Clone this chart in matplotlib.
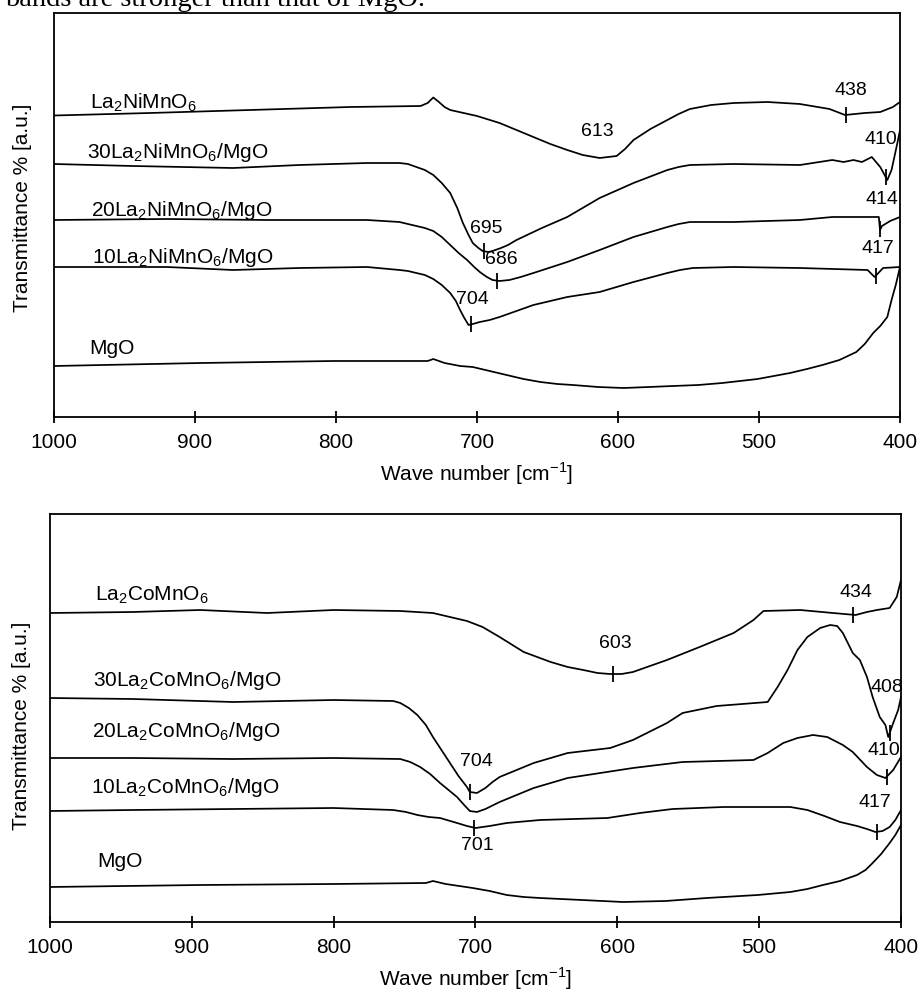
import numpy as np
import matplotlib
matplotlib.use("Agg")
import matplotlib.pyplot as plt

plt.rcParams['font.family'] = ['Liberation Sans', 'DejaVu Sans']
plt.rcParams['mathtext.fontset'] = 'custom'
plt.rcParams['mathtext.rm'] = 'Liberation Sans'

# ---------- top panel: La2NiMnO6 series (transmittance, arbitrary offset units) ----------
ni_pure_wn = [1000, 932, 861, 790, 740, 735, 731, 727, 723, 719, 700, 684, 672, 660, 648, 636, 625,
              613, 601, 595, 589, 577, 565, 557, 549, 534, 518, 494, 471, 450, 439, 425, 414, 405, 400]
ni_pure_t = [301.5, 304, 307, 310, 311, 314, 319.5, 315, 310, 307, 301, 294, 287, 280, 273, 267, 262,
             259, 261, 268, 277, 288, 297, 303, 308, 312, 314, 315, 313, 308, 302, 304, 305, 310, 315]

ni_30_wn = [1000, 944, 873, 826, 778, 755, 749, 743, 737, 731, 725, 719, 714, 710, 706, 703, 699,
            696, 692, 689, 683, 678, 672, 654, 636, 613, 589, 565, 557, 549, 518, 471, 448, 440, 433,
            427, 420, 414, 409, 406, 404, 401.4, 400]
ni_30_t = [253, 251, 249, 252, 254, 254, 253, 250, 247, 242, 234, 224, 209, 194, 182, 174, 169,
           166, 165, 166, 169, 172, 177, 189, 200, 219, 234, 247, 250, 252, 253, 252, 257, 255, 257,
           255, 260, 250, 237, 247, 260, 277, 287]

ni_20_wn = [1000, 920, 849, 778, 755, 749, 743, 737, 731, 725, 719, 713, 707, 702, 698, 693, 689,
            684, 677, 669, 660, 636, 613, 589, 565, 557, 549, 518, 471, 448, 415, 414.2, 412.8,
            407, 400]
ni_20_t = [197, 198, 197, 197, 195, 193, 191, 189, 186, 180, 172, 164, 157, 150, 145, 140, 137,
           136, 137, 140, 144, 155, 167, 180, 190, 193, 195, 195, 197, 200, 200, 187, 191,
           196, 200]

ni_10_wn = [1000, 920, 873, 826, 778, 755, 749, 743, 737, 731, 725, 719, 715, 712, 709, 706, 703,
            698, 691, 684, 672, 660, 636, 613, 589, 565, 556, 547, 518, 471, 423, 418, 412, 400]
ni_10_t = [150, 150, 147, 149, 150, 147, 146, 144, 142, 138, 132, 124, 116, 107, 99, 92, 93,
           95, 97, 100, 106, 112, 120, 125, 135, 144, 147, 149, 150, 149, 147, 140, 149, 150]

ni_mgo_wn = [1000, 896, 802, 735, 731, 723, 712, 703, 691, 679, 667, 655, 643, 632, 614, 596, 578,
             561, 543, 526, 501, 478, 466, 455, 443, 431, 425, 419, 414, 409, 406, 403, 400]
ni_mgo_t = [51, 54, 56, 56, 58, 54, 51, 50, 46, 42, 38, 35, 33, 32, 30, 29, 30,
            31, 32, 34, 38, 44, 48, 52, 57, 65, 73, 84, 91, 100, 117, 132, 150]

ni_names = ["La$_\\mathregular{2}$NiMnO$_\\mathregular{6}$",
            "30La$_\\mathregular{2}$NiMnO$_\\mathregular{6}$/MgO",
            "20La$_\\mathregular{2}$NiMnO$_\\mathregular{6}$/MgO",
            "10La$_\\mathregular{2}$NiMnO$_\\mathregular{6}$/MgO",
            "MgO"]

# peak marks: (series index, wave number, draw tick)
ni_peaks = [(0, 438, True), (0, 613, False), (1, 410, True), (2, 414, True),
            (1, 695, True), (2, 686, True), (3, 417, True), (3, 704, True)]

# ---------- bottom panel: La2CoMnO6 series ----------
co_pure_wn = [1000, 941.5, 894, 847, 800, 753, 730, 718, 706, 695, 683, 666, 647, 635, 624, 614,
              605, 597, 589, 577, 565, 542, 518, 504, 497, 471, 448, 432, 424, 417, 408, 403, 400]
co_pure_t = [309, 310, 312, 309, 312, 311, 309, 305, 301, 295, 285, 270, 260, 255, 252, 249,
             248, 248, 250, 256, 262, 275, 289, 302, 311, 312, 309, 307, 310, 312, 314, 325, 342]

co_30_wn = [1000, 941.5, 871, 800, 758, 753, 747, 741, 735, 730, 724, 718, 712, 706, 704, 699, 693,
            688, 683, 671, 659, 635, 605, 589, 565, 554, 530, 494, 487, 480, 473, 466, 457, 450,
            445, 441, 434, 429, 424, 420, 415, 411, 409, 405.5, 402, 400]
co_30_t = [224, 223, 220, 222, 221, 219, 214, 207, 197, 185, 172, 159, 146, 135, 130, 129, 134,
           140, 145, 152, 159, 169, 174, 182, 199, 209, 216, 220, 235, 252, 272, 285, 294, 297,
           296, 289, 269, 262, 245, 225, 205, 197, 185, 199, 212, 225]

co_20_wn = [1000, 941.5, 871, 800, 753, 746, 739, 732, 725, 719, 713, 708, 704, 699, 693, 683,
            671, 659, 635, 612, 589, 554, 504, 494, 483, 473, 462, 452, 441, 434, 424, 417, 411,
            405.5, 400]
co_20_t = [164, 164, 163, 164, 163, 160, 155, 148, 139, 132, 125, 117, 111, 110, 113, 120,
           127, 134, 144, 149, 154, 160, 162, 169, 179, 184, 187, 185, 177, 170, 155, 147, 144,
           152, 165]

co_10_wn = [1000, 941.5, 871, 800, 758, 749, 741, 733, 725, 713, 706, 700, 690, 678, 654.5, 607,
            584, 561, 525, 478, 466, 454, 443, 431, 424, 418, 413, 408, 404, 400]
co_10_t = [111, 112, 113, 114, 112, 110, 107, 105, 104, 99, 96, 94, 96, 99, 102, 104,
           109, 113, 115, 115, 112, 106, 100, 96, 93, 90, 91, 95, 102, 112]

co_mgo_wn = [1000, 894, 800, 735, 730, 721, 702, 690, 678, 666, 654.5, 625, 596, 566, 537, 501,
             478, 466, 455, 443, 431, 425, 420, 414, 408, 404, 400]
co_mgo_t = [35, 37, 38, 39, 41, 38, 34, 31, 27, 25, 24, 22, 20, 21, 24, 27,
            30, 33, 37, 41, 47, 52, 59, 68, 79, 87, 97]

co_names = ["La$_\\mathregular{2}$CoMnO$_\\mathregular{6}$",
            "30La$_\\mathregular{2}$CoMnO$_\\mathregular{6}$/MgO",
            "20La$_\\mathregular{2}$CoMnO$_\\mathregular{6}$/MgO",
            "10La$_\\mathregular{2}$CoMnO$_\\mathregular{6}$/MgO",
            "MgO"]

co_peaks = [(0, 434, True), (0, 603, True), (1, 408, True), (1, 704, True), (2, 704, False),
            (2, 410, True), (3, 701, True), (3, 417, True)]

# ---------- layout helpers ----------
ni_name_pos = [(974.5, 309), (976.6, 259), (973.8, 201), (973.0, 154), (975.2, 63)]
co_name_pos = [(968.3, 322), (969.7, 236), (970.4, 185), (971.0, 129), (966.9, 55)]
# label offsets (px) from the marked point, None = no label
ni_lab_off = [(4, 24), (-2, 26), (-5, 38), (2, 30), (2, 23), (5, 21), (2, 27), (1, 25)]
co_lab_off = [(3, 22), (2, 31), (-3, 45), (7, 30), None, (-3, 26), (3, -18), (-2, 29)]

PX = 0.72  # points per pixel at dpi 100


def draw_panel(ax, series, names, name_pos, peaks, offs, ytop):
    for (wn, t) in series:
        ax.plot(wn, t, color='black', lw=1.25, solid_joinstyle='round')
    for name, (x, y) in zip(names, name_pos):
        ax.text(x, y, name, fontsize=15, ha='left', va='baseline')
    for (idx, wn0, tick), off in zip(peaks, offs):
        wn, t = series[idx]
        y0 = np.interp(wn0, wn[::-1], t[::-1])
        if tick:
            ax.plot([wn0], [y0], marker='|', ms=12, mew=1.3, color='black')
        if off is not None:
            ax.annotate(str(wn0), (wn0, y0), xytext=(off[0] * PX, off[1] * PX),
                        textcoords='offset points', ha='center', va='center', fontsize=14)
    ax.set_xlim(1000, 400)
    ax.set_ylim(0, ytop)
    ax.set_xticks([1000, 900, 800, 700, 600, 500, 400])
    ax.set_yticks([])
    ax.tick_params(axis='x', direction='inout', length=9, width=1.3, labelsize=15, pad=7)
    for s in ax.spines.values():
        s.set_linewidth(1.3)
    ax.set_xlabel("Wave number [cm$^\\mathregular{-1}$]", fontsize=15, labelpad=6)


fig = plt.figure(figsize=(9.21, 9.91), dpi=100)
fig.text(5 / 921, 1 - 6 / 991, "bands are stronger than that of MgO.",
         family='Liberation Serif', fontsize=20.5, ha='left', va='baseline')

ax1 = fig.add_axes([54 / 921, 1 - 417 / 991, 846 / 921, 404 / 991])
draw_panel(ax1, [(ni_pure_wn, ni_pure_t), (ni_30_wn, ni_30_t), (ni_20_wn, ni_20_t),
                 (ni_10_wn, ni_10_t), (ni_mgo_wn, ni_mgo_t)],
           ni_names, ni_name_pos, ni_peaks, ni_lab_off, 404)
fig.text(23 / 921, 1 - 208 / 991, "Transmittance % [a.u.]", rotation=90,
         ha='center', va='center', fontsize=15)

ax2 = fig.add_axes([50 / 921, 1 - 922 / 991, 851 / 921, 408 / 991])
draw_panel(ax2, [(co_pure_wn, co_pure_t), (co_30_wn, co_30_t), (co_20_wn, co_20_t),
                 (co_10_wn, co_10_t), (co_mgo_wn, co_mgo_t)],
           co_names, co_name_pos, co_peaks, co_lab_off, 408)
fig.text(22 / 921, 1 - 726 / 991, "Transmittance % [a.u.]", rotation=90,
         ha='center', va='center', fontsize=15)

fig.savefig("out.png", dpi=100)
